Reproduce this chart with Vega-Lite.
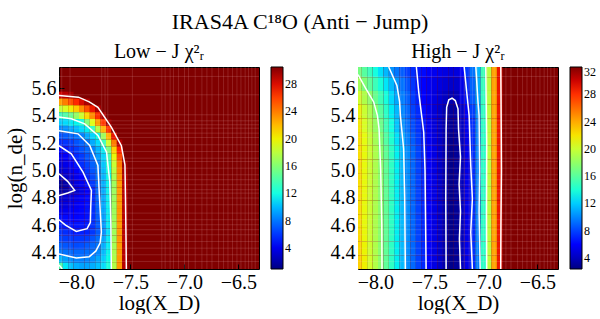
{
"$schema":"https://vega.github.io/schema/vega-lite/v6.json",
"background":"white",
"padding":{"left":3,"top":10,"right":2,"bottom":0},
"title":{"text":"IRAS4A C¹⁸O (Anti − Jump)","fontSize":22,"fontWeight":"normal","anchor":"middle","offset":8,"color":"black"},
"config":{"font":"Liberation Serif","view":{"stroke":"black","strokeWidth":1},
"axis":{"labelFontSize":20,"titleFontSize":21,"titleFontWeight":"normal","labelColor":"black","titleColor":"black","domain":false,"grid":false,"tickColor":"black","tickSize":-5,"labelPadding":8},
"axisX":{"titlePadding":0},
"legend":{"type":"gradient","gradientLength":202,"gradientThickness":12,"labelFontSize":12,"offset":12,"gradientStrokeColor":"black","gradientStrokeWidth":1,"padding":0,"labelOffset":4,"labelColor":"black"},
"title":{"fontWeight":"normal","fontSize":20,"color":"black"},
"concat":{"spacing":31}},
"resolve":{"scale":{"color":"independent"},"legend":{"color":"independent"}},
"datasets":{
"gx":[{"g":-8.135},{"g":-8.058},{"g":-7.765},{"g":-7.734},{"g":-7.709},{"g":-7.481},{"g":-7.209},{"g":-7.178},{"g":-7.132},{"g":-7.101},{"g":-7.055},{"g":-6.999},{"g":-6.962},{"g":-6.9},{"g":-6.838},{"g":-6.792},{"g":-6.745},{"g":-6.684},{"g":-6.638},{"g":-6.597},{"g":-6.555},{"g":-6.514},{"g":-6.477},{"g":-6.438},{"g":-6.407},{"g":-6.376},{"g":-6.345}],
"gy":[{"g":5.686},{"g":5.552},{"g":5.406},{"g":5.362},{"g":5.333},{"g":5.308},{"g":5.272},{"g":5.24},{"g":5.187},{"g":5.138},{"g":5.089},{"g":5.065},{"g":5.016},{"g":4.968},{"g":4.932},{"g":4.895},{"g":4.859},{"g":4.834},{"g":4.798},{"g":4.749},{"g":4.688},{"g":4.64},{"g":4.603},{"g":4.567},{"g":4.53},{"g":4.481},{"g":4.432},{"g":4.384},{"g":4.335}],
"lo":[
{"x":-8.15,"y":5.55,"v":28.5},{"x":-8.1,"y":5.55,"v":29},{"x":-8.05,"y":5.55,"v":29.5},
{"x":-8.15,"y":5.5,"v":22.7},{"x":-8.1,"y":5.5,"v":24},{"x":-8.05,"y":5.5,"v":25.4},{"x":-8,"y":5.5,"v":26.7},{"x":-7.95,"y":5.5,"v":28.1},{"x":-7.9,"y":5.5,"v":29.4},
{"x":-8.15,"y":5.45,"v":18.2},{"x":-8.1,"y":5.45,"v":19},{"x":-8.05,"y":5.45,"v":20},{"x":-8,"y":5.45,"v":21.5},{"x":-7.95,"y":5.45,"v":23.5},{"x":-7.9,"y":5.45,"v":25.5},{"x":-7.85,"y":5.45,"v":27.5},{"x":-7.8,"y":5.45,"v":29.3},
{"x":-8.15,"y":5.4,"v":13.2},{"x":-8.1,"y":5.4,"v":14},{"x":-8.05,"y":5.4,"v":15},{"x":-8,"y":5.4,"v":16.5},{"x":-7.95,"y":5.4,"v":18.5},{"x":-7.9,"y":5.4,"v":21},{"x":-7.85,"y":5.4,"v":23.5},{"x":-7.8,"y":5.4,"v":26.5},{"x":-7.75,"y":5.4,"v":29.4},
{"x":-8.15,"y":5.35,"v":10.5},{"x":-8.1,"y":5.35,"v":10.9},{"x":-8.05,"y":5.35,"v":11.3},{"x":-8,"y":5.35,"v":11.7},{"x":-7.95,"y":5.35,"v":12.1},{"x":-7.9,"y":5.35,"v":15.8},{"x":-7.85,"y":5.35,"v":19.3},{"x":-7.8,"y":5.35,"v":22.8},{"x":-7.75,"y":5.35,"v":26.3},{"x":-7.7,"y":5.35,"v":29.8},
{"x":-8.15,"y":5.3,"v":8.5},{"x":-8.1,"y":5.3,"v":8.8},{"x":-8.05,"y":5.3,"v":9.3},{"x":-8,"y":5.3,"v":10},{"x":-7.95,"y":5.3,"v":10.8},{"x":-7.9,"y":5.3,"v":11.5},{"x":-7.85,"y":5.3,"v":13.3},{"x":-7.8,"y":5.3,"v":17.7},{"x":-7.75,"y":5.3,"v":22.1},{"x":-7.7,"y":5.3,"v":26.4},{"x":-7.65,"y":5.3,"v":30.3},
{"x":-8.15,"y":5.25,"v":6.95},{"x":-8.1,"y":5.25,"v":7.2},{"x":-8.05,"y":5.25,"v":7.5},{"x":-8,"y":5.25,"v":7.8},{"x":-7.95,"y":5.25,"v":8.3},{"x":-7.9,"y":5.25,"v":9.5},{"x":-7.85,"y":5.25,"v":10.7},{"x":-7.8,"y":5.25,"v":11.9},{"x":-7.75,"y":5.25,"v":16.9},{"x":-7.7,"y":5.25,"v":22.2},{"x":-7.65,"y":5.25,"v":27.5},
{"x":-8.15,"y":5.2,"v":5.6},{"x":-8.1,"y":5.2,"v":5.9},{"x":-8.05,"y":5.2,"v":6.3},{"x":-8,"y":5.2,"v":6.9},{"x":-7.95,"y":5.2,"v":7.4},{"x":-7.9,"y":5.2,"v":8},{"x":-7.85,"y":5.2,"v":9.5},{"x":-7.8,"y":5.2,"v":10.9},{"x":-7.75,"y":5.2,"v":13.5},{"x":-7.7,"y":5.2,"v":18.7},{"x":-7.65,"y":5.2,"v":24},{"x":-7.6,"y":5.2,"v":29.2},
{"x":-8.15,"y":5.15,"v":4.7},{"x":-8.1,"y":5.15,"v":5},{"x":-8.05,"y":5.15,"v":5.6},{"x":-8,"y":5.15,"v":6.3},{"x":-7.95,"y":5.15,"v":6.9},{"x":-7.9,"y":5.15,"v":7.5},{"x":-7.85,"y":5.15,"v":8.3},{"x":-7.8,"y":5.15,"v":9.8},{"x":-7.75,"y":5.15,"v":11.4},{"x":-7.7,"y":5.15,"v":15.5},{"x":-7.65,"y":5.15,"v":21.2},{"x":-7.6,"y":5.15,"v":26.8},
{"x":-8.15,"y":5.1,"v":4.1},{"x":-8.1,"y":5.1,"v":4.5},{"x":-8.05,"y":5.1,"v":4.85},{"x":-8,"y":5.1,"v":5.45},{"x":-7.95,"y":5.1,"v":6.2},{"x":-7.9,"y":5.1,"v":7},{"x":-7.85,"y":5.1,"v":7.75},{"x":-7.8,"y":5.1,"v":9.1},{"x":-7.75,"y":5.1,"v":10.8},{"x":-7.7,"y":5.1,"v":13.7},{"x":-7.65,"y":5.1,"v":19.7},{"x":-7.6,"y":5.1,"v":25.7},
{"x":-8.15,"y":5.05,"v":3.5},{"x":-8.1,"y":5.05,"v":3.9},{"x":-8.05,"y":5.05,"v":4.4},{"x":-8,"y":5.05,"v":4.9},{"x":-7.95,"y":5.05,"v":5.6},{"x":-7.9,"y":5.05,"v":6.5},{"x":-7.85,"y":5.05,"v":7.3},{"x":-7.8,"y":5.05,"v":8.3},{"x":-7.75,"y":5.05,"v":10.3},{"x":-7.7,"y":5.05,"v":12.9},{"x":-7.65,"y":5.05,"v":18.5},{"x":-7.6,"y":5.05,"v":24.1},{"x":-7.55,"y":5.05,"v":29.7},
{"x":-8.15,"y":5,"v":2.9},{"x":-8.1,"y":5,"v":3.3},{"x":-8.05,"y":5,"v":3.8},{"x":-8,"y":5,"v":4.4},{"x":-7.95,"y":5,"v":5},{"x":-7.9,"y":5,"v":5.95},{"x":-7.85,"y":5,"v":6.95},{"x":-7.8,"y":5,"v":7.95},{"x":-7.75,"y":5,"v":10},{"x":-7.7,"y":5,"v":12.2},{"x":-7.65,"y":5,"v":17.9},{"x":-7.6,"y":5,"v":23.6},{"x":-7.55,"y":5,"v":29.4},
{"x":-8.15,"y":4.95,"v":2.3},{"x":-8.1,"y":4.95,"v":2.85},{"x":-8.05,"y":4.95,"v":3.4},{"x":-8,"y":4.95,"v":4},{"x":-7.95,"y":4.95,"v":4.6},{"x":-7.9,"y":4.95,"v":5.4},{"x":-7.85,"y":4.95,"v":6.6},{"x":-7.8,"y":4.95,"v":7.9},{"x":-7.75,"y":4.95,"v":9.8},{"x":-7.7,"y":4.95,"v":11.8},{"x":-7.65,"y":4.95,"v":17.4},{"x":-7.6,"y":4.95,"v":23.2},{"x":-7.55,"y":4.95,"v":29.1},
{"x":-8.15,"y":4.9,"v":1.4},{"x":-8.1,"y":4.9,"v":2},{"x":-8.05,"y":4.9,"v":2.8},{"x":-8,"y":4.9,"v":3.5},{"x":-7.95,"y":4.9,"v":4.1},{"x":-7.9,"y":4.9,"v":4.8},{"x":-7.85,"y":4.9,"v":6.1},{"x":-7.8,"y":4.9,"v":7.7},{"x":-7.75,"y":4.9,"v":9.6},{"x":-7.7,"y":4.9,"v":11.6},{"x":-7.65,"y":4.9,"v":16.9},{"x":-7.6,"y":4.9,"v":23},{"x":-7.55,"y":4.9,"v":29},
{"x":-8.15,"y":4.85,"v":1.8},{"x":-8.1,"y":4.85,"v":2},{"x":-8.05,"y":4.85,"v":2.4},{"x":-8,"y":4.85,"v":2.95},{"x":-7.95,"y":4.85,"v":3.7},{"x":-7.9,"y":4.85,"v":4.4},{"x":-7.85,"y":4.85,"v":5.4},{"x":-7.8,"y":4.85,"v":7.5},{"x":-7.75,"y":4.85,"v":9.5},{"x":-7.7,"y":4.85,"v":11.6},{"x":-7.65,"y":4.85,"v":16.8},{"x":-7.6,"y":4.85,"v":22.9},{"x":-7.55,"y":4.85,"v":29},
{"x":-8.15,"y":4.8,"v":2.8},{"x":-8.1,"y":4.8,"v":3.2},{"x":-8.05,"y":4.8,"v":3.55},{"x":-8,"y":4.8,"v":3.9},{"x":-7.95,"y":4.8,"v":4.3},{"x":-7.9,"y":4.8,"v":4.7},{"x":-7.85,"y":4.8,"v":5.5},{"x":-7.8,"y":4.8,"v":7.45},{"x":-7.75,"y":4.8,"v":9.5},{"x":-7.7,"y":4.8,"v":11.5},{"x":-7.65,"y":4.8,"v":16.9},{"x":-7.6,"y":4.8,"v":22.9},{"x":-7.55,"y":4.8,"v":29},
{"x":-8.15,"y":4.75,"v":3.25},{"x":-8.1,"y":4.75,"v":3.55},{"x":-8.05,"y":4.75,"v":3.85},{"x":-8,"y":4.75,"v":4.2},{"x":-7.95,"y":4.75,"v":4.5},{"x":-7.9,"y":4.75,"v":4.8},{"x":-7.85,"y":4.75,"v":5.6},{"x":-7.8,"y":4.75,"v":7.4},{"x":-7.75,"y":4.75,"v":9.4},{"x":-7.7,"y":4.75,"v":11.5},{"x":-7.65,"y":4.75,"v":16.9},{"x":-7.6,"y":4.75,"v":23},{"x":-7.55,"y":4.75,"v":29},
{"x":-8.15,"y":4.7,"v":3.85},{"x":-8.1,"y":4.7,"v":4.05},{"x":-8.05,"y":4.7,"v":4.25},{"x":-8,"y":4.7,"v":4.45},{"x":-7.95,"y":4.7,"v":4.65},{"x":-7.9,"y":4.7,"v":4.85},{"x":-7.85,"y":4.7,"v":5.6},{"x":-7.8,"y":4.7,"v":7.3},{"x":-7.75,"y":4.7,"v":9.3},{"x":-7.7,"y":4.7,"v":11.4},{"x":-7.65,"y":4.7,"v":16.9},{"x":-7.6,"y":4.7,"v":23},{"x":-7.55,"y":4.7,"v":29},
{"x":-8.15,"y":4.65,"v":4.8},{"x":-8.1,"y":4.65,"v":4.7},{"x":-8.05,"y":4.65,"v":4.65},{"x":-8,"y":4.65,"v":4.65},{"x":-7.95,"y":4.65,"v":4.7},{"x":-7.9,"y":4.65,"v":4.85},{"x":-7.85,"y":4.65,"v":5.7},{"x":-7.8,"y":4.65,"v":7.2},{"x":-7.75,"y":4.65,"v":9.1},{"x":-7.7,"y":4.65,"v":11.4},{"x":-7.65,"y":4.65,"v":17},{"x":-7.6,"y":4.65,"v":23},{"x":-7.55,"y":4.65,"v":29},
{"x":-8.15,"y":4.6,"v":5.2},{"x":-8.1,"y":4.6,"v":5},{"x":-8.05,"y":4.6,"v":4.9},{"x":-8,"y":4.6,"v":4.85},{"x":-7.95,"y":4.6,"v":4.9},{"x":-7.9,"y":4.6,"v":5},{"x":-7.85,"y":4.6,"v":5.8},{"x":-7.8,"y":4.6,"v":7.1},{"x":-7.75,"y":4.6,"v":9},{"x":-7.7,"y":4.6,"v":11.3},{"x":-7.65,"y":4.6,"v":17},{"x":-7.6,"y":4.6,"v":23},{"x":-7.55,"y":4.6,"v":29},
{"x":-8.15,"y":4.55,"v":5.9},{"x":-8.1,"y":4.55,"v":5.6},{"x":-8.05,"y":4.55,"v":5.3},{"x":-8,"y":4.55,"v":5.1},{"x":-7.95,"y":4.55,"v":5.15},{"x":-7.9,"y":4.55,"v":5.2},{"x":-7.85,"y":4.55,"v":6},{"x":-7.8,"y":4.55,"v":7.1},{"x":-7.75,"y":4.55,"v":8.7},{"x":-7.7,"y":4.55,"v":11},{"x":-7.65,"y":4.55,"v":17},{"x":-7.6,"y":4.55,"v":23},{"x":-7.55,"y":4.55,"v":29},
{"x":-8.15,"y":4.5,"v":6.6},{"x":-8.1,"y":4.5,"v":6.3},{"x":-8.05,"y":4.5,"v":6.1},{"x":-8,"y":4.5,"v":6},{"x":-7.95,"y":4.5,"v":6},{"x":-7.9,"y":4.5,"v":6.3},{"x":-7.85,"y":4.5,"v":6.9},{"x":-7.8,"y":4.5,"v":7.7},{"x":-7.75,"y":4.5,"v":9.3},{"x":-7.7,"y":4.5,"v":11.3},{"x":-7.65,"y":4.5,"v":17},{"x":-7.6,"y":4.5,"v":23},{"x":-7.55,"y":4.5,"v":29},
{"x":-8.15,"y":4.45,"v":7.3},{"x":-8.1,"y":4.45,"v":7},{"x":-8.05,"y":4.45,"v":6.8},{"x":-8,"y":4.45,"v":6.7},{"x":-7.95,"y":4.45,"v":6.8},{"x":-7.9,"y":4.45,"v":7.1},{"x":-7.85,"y":4.45,"v":7.5},{"x":-7.8,"y":4.45,"v":8},{"x":-7.75,"y":4.45,"v":9.6},{"x":-7.7,"y":4.45,"v":11.4},{"x":-7.65,"y":4.45,"v":17.2},{"x":-7.6,"y":4.45,"v":23},{"x":-7.55,"y":4.45,"v":29},
{"x":-8.15,"y":4.4,"v":8.1},{"x":-8.1,"y":4.4,"v":7.8},{"x":-8.05,"y":4.4,"v":7.6},{"x":-8,"y":4.4,"v":7.5},{"x":-7.95,"y":4.4,"v":7.5},{"x":-7.9,"y":4.4,"v":7.7},{"x":-7.85,"y":4.4,"v":7.9},{"x":-7.8,"y":4.4,"v":8.5},{"x":-7.75,"y":4.4,"v":10},{"x":-7.7,"y":4.4,"v":11.6},{"x":-7.65,"y":4.4,"v":17.3},{"x":-7.6,"y":4.4,"v":23},{"x":-7.55,"y":4.4,"v":29},
{"x":-8.15,"y":4.35,"v":10},{"x":-8.1,"y":4.35,"v":9.2},{"x":-8.05,"y":4.35,"v":8.7},{"x":-8,"y":4.35,"v":8.4},{"x":-7.95,"y":4.35,"v":8.3},{"x":-7.9,"y":4.35,"v":8.4},{"x":-7.85,"y":4.35,"v":8.7},{"x":-7.8,"y":4.35,"v":9.4},{"x":-7.75,"y":4.35,"v":10.5},{"x":-7.7,"y":4.35,"v":11.9},{"x":-7.65,"y":4.35,"v":17.5},{"x":-7.6,"y":4.35,"v":23},{"x":-7.55,"y":4.35,"v":29},
{"x":-8.15,"y":4.3,"v":14},{"x":-8.1,"y":4.3,"v":11.3},{"x":-8.05,"y":4.3,"v":10.2},{"x":-8,"y":4.3,"v":9.6},{"x":-7.95,"y":4.3,"v":9.3},{"x":-7.9,"y":4.3,"v":9.3},{"x":-7.85,"y":4.3,"v":9.6},{"x":-7.8,"y":4.3,"v":10.2},{"x":-7.75,"y":4.3,"v":11},{"x":-7.7,"y":4.3,"v":12.3},{"x":-7.65,"y":4.3,"v":17.6},{"x":-7.6,"y":4.3,"v":23},{"x":-7.55,"y":4.3,"v":29}
],
"hi":[
{"x":-8.15,"y":5.73,"v":17},{"x":-8.1,"y":5.73,"v":15.9},{"x":-8.05,"y":5.73,"v":14.8},{"x":-8,"y":5.73,"v":13.6},{"x":-7.95,"y":5.73,"v":12.5},{"x":-7.9,"y":5.73,"v":11.4},{"x":-7.85,"y":5.73,"v":10.3},{"x":-7.8,"y":5.73,"v":9.5},{"x":-7.75,"y":5.73,"v":8.7},{"x":-7.7,"y":5.73,"v":7.9},{"x":-7.65,"y":5.73,"v":7},{"x":-7.6,"y":5.73,"v":6.4},{"x":-7.55,"y":5.73,"v":6.2},{"x":-7.5,"y":5.73,"v":5.9},{"x":-7.45,"y":5.73,"v":5.65},{"x":-7.4,"y":5.73,"v":5.4},{"x":-7.35,"y":5.73,"v":5.15},{"x":-7.3,"y":5.73,"v":4.9},{"x":-7.25,"y":5.73,"v":4.95},{"x":-7.2,"y":5.73,"v":5.9},{"x":-7.15,"y":5.73,"v":7.6},{"x":-7.1,"y":5.73,"v":9.4},{"x":-7.05,"y":5.73,"v":11.4},{"x":-7,"y":5.73,"v":15},{"x":-6.95,"y":5.73,"v":19.4},{"x":-6.9,"y":5.73,"v":24.2},{"x":-6.85,"y":5.73,"v":29},
{"x":-8.15,"y":5.63,"v":18.6},{"x":-8.1,"y":5.63,"v":17.3},{"x":-8.05,"y":5.63,"v":16.1},{"x":-8,"y":5.63,"v":15},{"x":-7.95,"y":5.63,"v":13.8},{"x":-7.9,"y":5.63,"v":12.7},{"x":-7.85,"y":5.63,"v":11.5},{"x":-7.8,"y":5.63,"v":10.4},{"x":-7.75,"y":5.63,"v":9.4},{"x":-7.7,"y":5.63,"v":8.4},{"x":-7.65,"y":5.63,"v":7.4},{"x":-7.6,"y":5.63,"v":6.4},{"x":-7.55,"y":5.63,"v":6.1},{"x":-7.5,"y":5.63,"v":5.7},{"x":-7.45,"y":5.63,"v":5.4},{"x":-7.4,"y":5.63,"v":5.05},{"x":-7.35,"y":5.63,"v":4.7},{"x":-7.3,"y":5.63,"v":4.35},{"x":-7.25,"y":5.63,"v":4.4},{"x":-7.2,"y":5.63,"v":5.4},{"x":-7.15,"y":5.63,"v":7.2},{"x":-7.1,"y":5.63,"v":8.9},{"x":-7.05,"y":5.63,"v":11.2},{"x":-7,"y":5.63,"v":14.8},{"x":-6.95,"y":5.63,"v":19.4},{"x":-6.9,"y":5.63,"v":24.2},{"x":-6.85,"y":5.63,"v":29},
{"x":-8.15,"y":5.53,"v":20.2},{"x":-8.1,"y":5.53,"v":19},{"x":-8.05,"y":5.53,"v":17.8},{"x":-8,"y":5.53,"v":16.5},{"x":-7.95,"y":5.53,"v":15.1},{"x":-7.9,"y":5.53,"v":13.7},{"x":-7.85,"y":5.53,"v":12.3},{"x":-7.8,"y":5.53,"v":10.9},{"x":-7.75,"y":5.53,"v":9.8},{"x":-7.7,"y":5.53,"v":8.8},{"x":-7.65,"y":5.53,"v":7.7},{"x":-7.6,"y":5.53,"v":6.7},{"x":-7.55,"y":5.53,"v":6.1},{"x":-7.5,"y":5.53,"v":5.6},{"x":-7.45,"y":5.53,"v":5.1},{"x":-7.4,"y":5.53,"v":4.6},{"x":-7.35,"y":5.53,"v":4.1},{"x":-7.3,"y":5.53,"v":3.7},{"x":-7.25,"y":5.53,"v":3.8},{"x":-7.2,"y":5.53,"v":5.2},{"x":-7.15,"y":5.53,"v":6.5},{"x":-7.1,"y":5.53,"v":8.6},{"x":-7.05,"y":5.53,"v":10.8},{"x":-7,"y":5.53,"v":14.7},{"x":-6.95,"y":5.53,"v":19.4},{"x":-6.9,"y":5.53,"v":24.2},{"x":-6.85,"y":5.53,"v":29},
{"x":-8.15,"y":5.43,"v":21.3},{"x":-8.1,"y":5.43,"v":20},{"x":-8.05,"y":5.43,"v":18.8},{"x":-8,"y":5.43,"v":17.5},{"x":-7.95,"y":5.43,"v":16},{"x":-7.9,"y":5.43,"v":14.5},{"x":-7.85,"y":5.43,"v":12.9},{"x":-7.8,"y":5.43,"v":11.4},{"x":-7.75,"y":5.43,"v":10},{"x":-7.7,"y":5.43,"v":9},{"x":-7.65,"y":5.43,"v":8},{"x":-7.6,"y":5.43,"v":7},{"x":-7.55,"y":5.43,"v":6.2},{"x":-7.5,"y":5.43,"v":5.5},{"x":-7.45,"y":5.43,"v":4.9},{"x":-7.4,"y":5.43,"v":4.3},{"x":-7.35,"y":5.43,"v":3.6},{"x":-7.3,"y":5.43,"v":3.2},{"x":-7.25,"y":5.43,"v":3.35},{"x":-7.2,"y":5.43,"v":4.3},{"x":-7.15,"y":5.43,"v":5.8},{"x":-7.1,"y":5.43,"v":7.9},{"x":-7.05,"y":5.43,"v":10.3},{"x":-7,"y":5.43,"v":14.6},{"x":-6.95,"y":5.43,"v":19.4},{"x":-6.9,"y":5.43,"v":24.2},{"x":-6.85,"y":5.43,"v":29},
{"x":-8.15,"y":5.33,"v":21.8},{"x":-8.1,"y":5.33,"v":20.5},{"x":-8.05,"y":5.33,"v":19.3},{"x":-8,"y":5.33,"v":18.1},{"x":-7.95,"y":5.33,"v":16.7},{"x":-7.9,"y":5.33,"v":15.1},{"x":-7.85,"y":5.33,"v":13.5},{"x":-7.8,"y":5.33,"v":11.8},{"x":-7.75,"y":5.33,"v":10.3},{"x":-7.7,"y":5.33,"v":9.3},{"x":-7.65,"y":5.33,"v":8.3},{"x":-7.6,"y":5.33,"v":7.3},{"x":-7.55,"y":5.33,"v":6.4},{"x":-7.5,"y":5.33,"v":5.6},{"x":-7.45,"y":5.33,"v":4.9},{"x":-7.4,"y":5.33,"v":4.2},{"x":-7.35,"y":5.33,"v":3.5},{"x":-7.3,"y":5.33,"v":3},{"x":-7.25,"y":5.33,"v":3.2},{"x":-7.2,"y":5.33,"v":4.1},{"x":-7.15,"y":5.33,"v":5.5},{"x":-7.1,"y":5.33,"v":7.2},{"x":-7.05,"y":5.33,"v":9.9},{"x":-7,"y":5.33,"v":14.5},{"x":-6.95,"y":5.33,"v":19.4},{"x":-6.9,"y":5.33,"v":24.2},{"x":-6.85,"y":5.33,"v":29},
{"x":-8.15,"y":5.23,"v":22.2},{"x":-8.1,"y":5.23,"v":21},{"x":-8.05,"y":5.23,"v":19.8},{"x":-8,"y":5.23,"v":18.6},{"x":-7.95,"y":5.23,"v":17.35},{"x":-7.9,"y":5.23,"v":15.75},{"x":-7.85,"y":5.23,"v":14.2},{"x":-7.8,"y":5.23,"v":12.6},{"x":-7.75,"y":5.23,"v":11},{"x":-7.7,"y":5.23,"v":9.8},{"x":-7.65,"y":5.23,"v":8.7},{"x":-7.6,"y":5.23,"v":7.7},{"x":-7.55,"y":5.23,"v":6.6},{"x":-7.5,"y":5.23,"v":5.8},{"x":-7.45,"y":5.23,"v":5},{"x":-7.4,"y":5.23,"v":4.3},{"x":-7.35,"y":5.23,"v":3.5},{"x":-7.3,"y":5.23,"v":2.8},{"x":-7.25,"y":5.23,"v":3},{"x":-7.2,"y":5.23,"v":4},{"x":-7.15,"y":5.23,"v":5.4},{"x":-7.1,"y":5.23,"v":7.1},{"x":-7.05,"y":5.23,"v":9.9},{"x":-7,"y":5.23,"v":14.5},{"x":-6.95,"y":5.23,"v":19.4},{"x":-6.9,"y":5.23,"v":24.2},{"x":-6.85,"y":5.23,"v":29},
{"x":-8.15,"y":5.13,"v":22.3},{"x":-8.1,"y":5.13,"v":21.1},{"x":-8.05,"y":5.13,"v":20},{"x":-8,"y":5.13,"v":18.9},{"x":-7.95,"y":5.13,"v":17.7},{"x":-7.9,"y":5.13,"v":16.2},{"x":-7.85,"y":5.13,"v":14.6},{"x":-7.8,"y":5.13,"v":13},{"x":-7.75,"y":5.13,"v":11.5},{"x":-7.7,"y":5.13,"v":10.1},{"x":-7.65,"y":5.13,"v":9},{"x":-7.6,"y":5.13,"v":8},{"x":-7.55,"y":5.13,"v":6.9},{"x":-7.5,"y":5.13,"v":6},{"x":-7.45,"y":5.13,"v":5.2},{"x":-7.4,"y":5.13,"v":4.3},{"x":-7.35,"y":5.13,"v":3.5},{"x":-7.3,"y":5.13,"v":2.7},{"x":-7.25,"y":5.13,"v":3},{"x":-7.2,"y":5.13,"v":4},{"x":-7.15,"y":5.13,"v":5.4},{"x":-7.1,"y":5.13,"v":7.1},{"x":-7.05,"y":5.13,"v":9.9},{"x":-7,"y":5.13,"v":14.5},{"x":-6.95,"y":5.13,"v":19.4},{"x":-6.9,"y":5.13,"v":24.2},{"x":-6.85,"y":5.13,"v":29},
{"x":-8.15,"y":5.03,"v":22.3},{"x":-8.1,"y":5.03,"v":21.1},{"x":-8.05,"y":5.03,"v":20},{"x":-8,"y":5.03,"v":18.9},{"x":-7.95,"y":5.03,"v":17.7},{"x":-7.9,"y":5.03,"v":16.2},{"x":-7.85,"y":5.03,"v":14.6},{"x":-7.8,"y":5.03,"v":13},{"x":-7.75,"y":5.03,"v":11.5},{"x":-7.7,"y":5.03,"v":10.1},{"x":-7.65,"y":5.03,"v":9},{"x":-7.6,"y":5.03,"v":8},{"x":-7.55,"y":5.03,"v":6.9},{"x":-7.5,"y":5.03,"v":6},{"x":-7.45,"y":5.03,"v":5.2},{"x":-7.4,"y":5.03,"v":4.3},{"x":-7.35,"y":5.03,"v":3.5},{"x":-7.3,"y":5.03,"v":2.7},{"x":-7.25,"y":5.03,"v":3},{"x":-7.2,"y":5.03,"v":3.9},{"x":-7.15,"y":5.03,"v":5.3},{"x":-7.1,"y":5.03,"v":7.1},{"x":-7.05,"y":5.03,"v":9.9},{"x":-7,"y":5.03,"v":14.5},{"x":-6.95,"y":5.03,"v":19.4},{"x":-6.9,"y":5.03,"v":24.2},{"x":-6.85,"y":5.03,"v":29},
{"x":-8.15,"y":4.93,"v":22.3},{"x":-8.1,"y":4.93,"v":21.1},{"x":-8.05,"y":4.93,"v":20},{"x":-8,"y":4.93,"v":18.9},{"x":-7.95,"y":4.93,"v":17.7},{"x":-7.9,"y":4.93,"v":16.2},{"x":-7.85,"y":4.93,"v":14.6},{"x":-7.8,"y":4.93,"v":13},{"x":-7.75,"y":4.93,"v":11.5},{"x":-7.7,"y":4.93,"v":10.1},{"x":-7.65,"y":4.93,"v":9},{"x":-7.6,"y":4.93,"v":8},{"x":-7.55,"y":4.93,"v":6.9},{"x":-7.5,"y":4.93,"v":6},{"x":-7.45,"y":4.93,"v":5.2},{"x":-7.4,"y":4.93,"v":4.3},{"x":-7.35,"y":4.93,"v":3.5},{"x":-7.3,"y":4.93,"v":2.7},{"x":-7.25,"y":4.93,"v":3},{"x":-7.2,"y":4.93,"v":4},{"x":-7.15,"y":4.93,"v":5.4},{"x":-7.1,"y":4.93,"v":7.2},{"x":-7.05,"y":4.93,"v":9.9},{"x":-7,"y":4.93,"v":14.5},{"x":-6.95,"y":4.93,"v":19.4},{"x":-6.9,"y":4.93,"v":24.2},{"x":-6.85,"y":4.93,"v":29},
{"x":-8.15,"y":4.83,"v":22.3},{"x":-8.1,"y":4.83,"v":21.1},{"x":-8.05,"y":4.83,"v":20},{"x":-8,"y":4.83,"v":18.9},{"x":-7.95,"y":4.83,"v":17.7},{"x":-7.9,"y":4.83,"v":16.2},{"x":-7.85,"y":4.83,"v":14.6},{"x":-7.8,"y":4.83,"v":13},{"x":-7.75,"y":4.83,"v":11.5},{"x":-7.7,"y":4.83,"v":10.1},{"x":-7.65,"y":4.83,"v":9},{"x":-7.6,"y":4.83,"v":8},{"x":-7.55,"y":4.83,"v":6.9},{"x":-7.5,"y":4.83,"v":6},{"x":-7.45,"y":4.83,"v":5.2},{"x":-7.4,"y":4.83,"v":4.3},{"x":-7.35,"y":4.83,"v":3.5},{"x":-7.3,"y":4.83,"v":2.7},{"x":-7.25,"y":4.83,"v":3},{"x":-7.2,"y":4.83,"v":4},{"x":-7.15,"y":4.83,"v":5.3},{"x":-7.1,"y":4.83,"v":6.9},{"x":-7.05,"y":4.83,"v":9.8},{"x":-7,"y":4.83,"v":14.5},{"x":-6.95,"y":4.83,"v":19.4},{"x":-6.9,"y":4.83,"v":24.2},{"x":-6.85,"y":4.83,"v":29},
{"x":-8.15,"y":4.73,"v":22.3},{"x":-8.1,"y":4.73,"v":21.1},{"x":-8.05,"y":4.73,"v":20},{"x":-8,"y":4.73,"v":18.9},{"x":-7.95,"y":4.73,"v":17.7},{"x":-7.9,"y":4.73,"v":16.2},{"x":-7.85,"y":4.73,"v":14.6},{"x":-7.8,"y":4.73,"v":13},{"x":-7.75,"y":4.73,"v":11.5},{"x":-7.7,"y":4.73,"v":10.1},{"x":-7.65,"y":4.73,"v":9},{"x":-7.6,"y":4.73,"v":8},{"x":-7.55,"y":4.73,"v":6.9},{"x":-7.5,"y":4.73,"v":6},{"x":-7.45,"y":4.73,"v":5.2},{"x":-7.4,"y":4.73,"v":4.3},{"x":-7.35,"y":4.73,"v":3.5},{"x":-7.3,"y":4.73,"v":2.7},{"x":-7.25,"y":4.73,"v":3},{"x":-7.2,"y":4.73,"v":4},{"x":-7.15,"y":4.73,"v":5.4},{"x":-7.1,"y":4.73,"v":7.1},{"x":-7.05,"y":4.73,"v":9.9},{"x":-7,"y":4.73,"v":14.5},{"x":-6.95,"y":4.73,"v":19.4},{"x":-6.9,"y":4.73,"v":24.2},{"x":-6.85,"y":4.73,"v":29},
{"x":-8.15,"y":4.63,"v":22.4},{"x":-8.1,"y":4.63,"v":21.1},{"x":-8.05,"y":4.63,"v":20},{"x":-8,"y":4.63,"v":18.9},{"x":-7.95,"y":4.63,"v":17.7},{"x":-7.9,"y":4.63,"v":16.2},{"x":-7.85,"y":4.63,"v":14.6},{"x":-7.8,"y":4.63,"v":13},{"x":-7.75,"y":4.63,"v":11.5},{"x":-7.7,"y":4.63,"v":10.1},{"x":-7.65,"y":4.63,"v":9},{"x":-7.6,"y":4.63,"v":8},{"x":-7.55,"y":4.63,"v":6.9},{"x":-7.5,"y":4.63,"v":6},{"x":-7.45,"y":4.63,"v":5.2},{"x":-7.4,"y":4.63,"v":4.3},{"x":-7.35,"y":4.63,"v":3.5},{"x":-7.3,"y":4.63,"v":2.7},{"x":-7.25,"y":4.63,"v":3},{"x":-7.2,"y":4.63,"v":4},{"x":-7.15,"y":4.63,"v":5.4},{"x":-7.1,"y":4.63,"v":7.2},{"x":-7.05,"y":4.63,"v":9.9},{"x":-7,"y":4.63,"v":14.5},{"x":-6.95,"y":4.63,"v":19.4},{"x":-6.9,"y":4.63,"v":24.2},{"x":-6.85,"y":4.63,"v":29},
{"x":-8.15,"y":4.53,"v":22.5},{"x":-8.1,"y":4.53,"v":21.2},{"x":-8.05,"y":4.53,"v":20},{"x":-8,"y":4.53,"v":18.9},{"x":-7.95,"y":4.53,"v":17.7},{"x":-7.9,"y":4.53,"v":16.2},{"x":-7.85,"y":4.53,"v":14.6},{"x":-7.8,"y":4.53,"v":13},{"x":-7.75,"y":4.53,"v":11.5},{"x":-7.7,"y":4.53,"v":10.1},{"x":-7.65,"y":4.53,"v":9},{"x":-7.6,"y":4.53,"v":8},{"x":-7.55,"y":4.53,"v":6.9},{"x":-7.5,"y":4.53,"v":6},{"x":-7.45,"y":4.53,"v":5.2},{"x":-7.4,"y":4.53,"v":4.3},{"x":-7.35,"y":4.53,"v":3.5},{"x":-7.3,"y":4.53,"v":2.7},{"x":-7.25,"y":4.53,"v":3},{"x":-7.2,"y":4.53,"v":4},{"x":-7.15,"y":4.53,"v":5.3},{"x":-7.1,"y":4.53,"v":6.9},{"x":-7.05,"y":4.53,"v":9.8},{"x":-7,"y":4.53,"v":14.5},{"x":-6.95,"y":4.53,"v":19.4},{"x":-6.9,"y":4.53,"v":24.2},{"x":-6.85,"y":4.53,"v":29},
{"x":-8.15,"y":4.43,"v":22.6},{"x":-8.1,"y":4.43,"v":21.3},{"x":-8.05,"y":4.43,"v":20.1},{"x":-8,"y":4.43,"v":19},{"x":-7.95,"y":4.43,"v":17.7},{"x":-7.9,"y":4.43,"v":16.2},{"x":-7.85,"y":4.43,"v":14.6},{"x":-7.8,"y":4.43,"v":13},{"x":-7.75,"y":4.43,"v":11.5},{"x":-7.7,"y":4.43,"v":10.1},{"x":-7.65,"y":4.43,"v":9},{"x":-7.6,"y":4.43,"v":8},{"x":-7.55,"y":4.43,"v":6.9},{"x":-7.5,"y":4.43,"v":6},{"x":-7.45,"y":4.43,"v":5.2},{"x":-7.4,"y":4.43,"v":4.3},{"x":-7.35,"y":4.43,"v":3.5},{"x":-7.3,"y":4.43,"v":2.7},{"x":-7.25,"y":4.43,"v":3},{"x":-7.2,"y":4.43,"v":4},{"x":-7.15,"y":4.43,"v":5.4},{"x":-7.1,"y":4.43,"v":7.2},{"x":-7.05,"y":4.43,"v":9.9},{"x":-7,"y":4.43,"v":14.5},{"x":-6.95,"y":4.43,"v":19.4},{"x":-6.9,"y":4.43,"v":24.2},{"x":-6.85,"y":4.43,"v":29},
{"x":-8.15,"y":4.33,"v":22.8},{"x":-8.1,"y":4.33,"v":21.5},{"x":-8.05,"y":4.33,"v":20.3},{"x":-8,"y":4.33,"v":19.1},{"x":-7.95,"y":4.33,"v":17.8},{"x":-7.9,"y":4.33,"v":16.2},{"x":-7.85,"y":4.33,"v":14.6},{"x":-7.8,"y":4.33,"v":13},{"x":-7.75,"y":4.33,"v":11.5},{"x":-7.7,"y":4.33,"v":10.1},{"x":-7.65,"y":4.33,"v":9},{"x":-7.6,"y":4.33,"v":8},{"x":-7.55,"y":4.33,"v":6.9},{"x":-7.5,"y":4.33,"v":6},{"x":-7.45,"y":4.33,"v":5.2},{"x":-7.4,"y":4.33,"v":4.3},{"x":-7.35,"y":4.33,"v":3.5},{"x":-7.3,"y":4.33,"v":2.7},{"x":-7.25,"y":4.33,"v":3},{"x":-7.2,"y":4.33,"v":4},{"x":-7.15,"y":4.33,"v":5.3},{"x":-7.1,"y":4.33,"v":7},{"x":-7.05,"y":4.33,"v":9.8},{"x":-7,"y":4.33,"v":14.5},{"x":-6.95,"y":4.33,"v":19.4},{"x":-6.9,"y":4.33,"v":24.2},{"x":-6.85,"y":4.33,"v":29}
],
"loc":[
{"c":1,"o":1,"x":-8.16,"y":5.547},{"c":1,"o":2,"x":-7.98,"y":5.535},{"c":1,"o":3,"x":-7.88,"y":5.5},{"c":1,"o":4,"x":-7.8,"y":5.46},{"c":1,"o":5,"x":-7.676,"y":5.316},{"c":1,"o":6,"x":-7.583,"y":5.18},{"c":1,"o":7,"x":-7.55,"y":5.04},{"c":1,"o":8,"x":-7.545,"y":4.8},{"c":1,"o":9,"x":-7.54,"y":4.5},{"c":1,"o":10,"x":-7.537,"y":4.28},
{"c":2,"o":1,"x":-8.16,"y":5.39},{"c":2,"o":2,"x":-8.046,"y":5.377},{"c":2,"o":3,"x":-7.922,"y":5.34},{"c":2,"o":4,"x":-7.8,"y":5.255},{"c":2,"o":5,"x":-7.72,"y":5.133},{"c":2,"o":6,"x":-7.69,"y":4.914},{"c":2,"o":7,"x":-7.68,"y":4.6},{"c":2,"o":8,"x":-7.676,"y":4.28},
{"c":6,"o":1,"x":-8.16,"y":4.31},{"c":6,"o":2,"x":-8.13,"y":4.28},
{"c":3,"o":1,"x":-8.16,"y":5.29},{"c":3,"o":2,"x":-7.984,"y":5.267},{"c":3,"o":3,"x":-7.876,"y":5.182},{"c":3,"o":4,"x":-7.8,"y":5.036},{"c":3,"o":5,"x":-7.785,"y":4.793},{"c":3,"o":6,"x":-7.768,"y":4.549},{"c":3,"o":7,"x":-7.78,"y":4.47},{"c":3,"o":8,"x":-7.82,"y":4.41},{"c":3,"o":9,"x":-7.88,"y":4.37},{"c":3,"o":10,"x":-8,"y":4.36},{"c":3,"o":11,"x":-8.16,"y":4.39},
{"c":4,"o":1,"x":-8.16,"y":5.18},{"c":4,"o":2,"x":-8.046,"y":5.121},{"c":4,"o":3,"x":-7.938,"y":4.987},{"c":4,"o":4,"x":-7.86,"y":4.854},{"c":4,"o":5,"x":-7.866,"y":4.744},{"c":4,"o":6,"x":-7.87,"y":4.62},{"c":4,"o":7,"x":-7.9,"y":4.575},{"c":4,"o":8,"x":-8,"y":4.554},{"c":4,"o":9,"x":-8.1,"y":4.6},{"c":4,"o":10,"x":-8.16,"y":4.64},
{"c":5,"o":1,"x":-8.16,"y":4.975},{"c":5,"o":2,"x":-8.08,"y":4.92},{"c":5,"o":3,"x":-8.015,"y":4.854},{"c":5,"o":4,"x":-8.08,"y":4.835},{"c":5,"o":5,"x":-8.16,"y":4.817}
],
"hic":[
{"c":"A","o":1,"x":-8.16,"y":5.7},{"c":"A","o":2,"x":-8.09,"y":5.6},{"c":"A","o":3,"x":-8.015,"y":5.5},{"c":"A","o":4,"x":-7.98,"y":5.4},{"c":"A","o":5,"x":-7.965,"y":5.3},{"c":"A","o":6,"x":-7.95,"y":5},{"c":"A","o":7,"x":-7.94,"y":4.6},{"c":"A","o":8,"x":-7.938,"y":4.28},
{"c":"B","o":1,"x":-7.876,"y":5.755},{"c":"B","o":2,"x":-7.8,"y":5.62},{"c":"B","o":3,"x":-7.775,"y":5.5},{"c":"B","o":4,"x":-7.768,"y":5.4},{"c":"B","o":5,"x":-7.738,"y":5.158},{"c":"B","o":6,"x":-7.728,"y":4.8},{"c":"B","o":7,"x":-7.722,"y":4.28},
{"c":"C","o":1,"x":-7.62,"y":5.755},{"c":"C","o":2,"x":-7.598,"y":5.57},{"c":"C","o":3,"x":-7.552,"y":5.279},{"c":"C","o":4,"x":-7.54,"y":5},{"c":"C","o":5,"x":-7.53,"y":4.28},
{"c":"D","o":1,"x":-7.345,"y":4.28},{"c":"D","o":2,"x":-7.348,"y":4.8},{"c":"D","o":3,"x":-7.345,"y":5.3},{"c":"D","o":4,"x":-7.34,"y":5.46},{"c":"D","o":5,"x":-7.32,"y":5.515},{"c":"D","o":6,"x":-7.29,"y":5.527},{"c":"D","o":7,"x":-7.26,"y":5.51},{"c":"D","o":8,"x":-7.235,"y":5.45},{"c":"D","o":9,"x":-7.23,"y":5.3},{"c":"D","o":10,"x":-7.212,"y":5.1},{"c":"D","o":11,"x":-7.225,"y":4.9},{"c":"D","o":12,"x":-7.212,"y":4.7},{"c":"D","o":13,"x":-7.222,"y":4.5},{"c":"D","o":14,"x":-7.212,"y":4.28},
{"c":"E","o":1,"x":-7.178,"y":5.755},{"c":"E","o":2,"x":-7.148,"y":5.523},{"c":"E","o":3,"x":-7.132,"y":5.4},{"c":"E","o":4,"x":-7.117,"y":5.036},{"c":"E","o":5,"x":-7.102,"y":4.793},{"c":"E","o":6,"x":-7.117,"y":4.549},{"c":"E","o":7,"x":-7.102,"y":4.28},
{"c":"F","o":1,"x":-7.07,"y":5.755},{"c":"F","o":2,"x":-7.05,"y":5.5},{"c":"F","o":3,"x":-7.04,"y":5.4},{"c":"F","o":4,"x":-7.035,"y":5},{"c":"F","o":5,"x":-7.04,"y":4.7},{"c":"F","o":6,"x":-7.03,"y":4.28},
{"c":"G","o":1,"x":-6.978,"y":5.755},{"c":"G","o":2,"x":-6.97,"y":5.2},{"c":"G","o":3,"x":-6.972,"y":4.7},{"c":"G","o":4,"x":-6.97,"y":4.28},
{"c":"H","o":1,"x":-6.839,"y":5.755},{"c":"H","o":2,"x":-6.835,"y":5.3},{"c":"H","o":3,"x":-6.833,"y":5},{"c":"H","o":4,"x":-6.838,"y":4.6},{"c":"H","o":5,"x":-6.84,"y":4.28}
]
},
"hconcat":[
{"width":200,"height":202,
"title":{"text":"Low − J χ²ᵣ","offset":5},
"view":{"fill":"#800000","stroke":"black"},
"layer":[
{"data":{"name":"lo"},
"transform":[{"bin":{"step":0.05,"extent":[-8.175,-7.525],"nice":false},"field":"x","as":["x0","x1"]},{"bin":{"step":0.05,"extent":[4.275,5.575],"nice":false},"field":"y","as":["y0","y1"]}],
"mark":{"type":"rect","clip":true},
"encoding":{
"x":{"field":"x0","type":"quantitative","scale":{"domain":[-8.16,-6.31],"nice":false,"zero":false},"axis":{"values":[-8,-7.5,-7,-6.5],"format":".1f","title":"log(X_D)"}},
"x2":{"field":"x1"},
"y":{"field":"y0","type":"quantitative","scale":{"domain":[4.28,5.755],"nice":false,"zero":false},"axis":{"values":[4.4,4.6,4.8,5,5.2,5.4,5.6],"format":".1f","title":"log(n_de)","titlePadding":6}},
"y2":{"field":"y1"},
"color":{"field":"v","type":"quantitative","scale":{"domain":[0.9,2.75,4.6,6.45,8.3,10.15,12,13.85,15.7,17.55,19.4,21.25,23.1,24.95,26.8,28.65,30.5],"range":["#000080","#0000c8","#0000ff","#0040ff","#0080ff","#00c0ff","#15ffe2","#48ffaf","#7bff7b","#afff48","#e2ff15","#ffd200","#ff9700","#ff5c00","#ff2100","#c80000","#800000"],"clamp":true},"legend":{"type":"gradient","title":null,"values":[4,8,12,16,20,24,28]}}
}},
{"data":{"name":"gx"},"mark":{"type":"rule","color":"#ffd0d0","opacity":0.22,"strokeWidth":0.7,"clip":true},
"encoding":{"x":{"field":"g","type":"quantitative","axis":{"values":[-8,-7.5,-7,-6.5],"format":".1f","title":"log(X_D)"}}}},
{"data":{"name":"gy"},"mark":{"type":"rule","color":"#ffd0d0","opacity":0.22,"strokeWidth":0.7,"clip":true},
"encoding":{"y":{"field":"g","type":"quantitative","axis":{"values":[4.4,4.6,4.8,5,5.2,5.4,5.6],"format":".1f","title":"log(n_de)","titlePadding":6}}}},
{"data":{"name":"loc"},
"mark":{"type":"line","color":"white","strokeWidth":1.5,"clip":true},
"encoding":{
"x":{"field":"x","type":"quantitative","axis":{"values":[-8,-7.5,-7,-6.5],"format":".1f","title":"log(X_D)"}},
"y":{"field":"y","type":"quantitative","axis":{"values":[4.4,4.6,4.8,5,5.2,5.4,5.6],"format":".1f","title":"log(n_de)","titlePadding":6}},
"detail":{"field":"c"},
"order":{"field":"o"}
}}
]},
{"width":200,"height":202,
"title":{"text":"High − J χ²ᵣ","offset":5},
"view":{"fill":"#800000","stroke":"black"},
"layer":[
{"data":{"name":"hi"},
"transform":[{"bin":{"step":0.05,"extent":[-8.175,-6.825],"nice":false},"field":"x","as":["x0","x1"]},{"bin":{"step":0.1,"extent":[4.28,5.78],"nice":false},"field":"y","as":["y0","y1"]}],
"mark":{"type":"rect","clip":true},
"encoding":{
"x":{"field":"x0","type":"quantitative","scale":{"domain":[-8.16,-6.31],"nice":false,"zero":false},"axis":{"values":[-8,-7.5,-7,-6.5],"format":".1f","title":"log(X_D)"}},
"x2":{"field":"x1"},
"y":{"field":"y0","type":"quantitative","scale":{"domain":[4.28,5.755],"nice":false,"zero":false},"axis":{"values":[4.4,4.6,4.8,5,5.2,5.4,5.6],"format":".1f","title":null}},
"y2":{"field":"y1"},
"color":{"field":"v","type":"quantitative","scale":{"domain":[2.4,4.25,6.1,7.95,9.8,11.65,13.5,15.35,17.2,19.05,20.9,22.75,24.6,26.45,28.3,30.15,32],"range":["#000080","#0000c8","#0000ff","#0040ff","#0080ff","#00c0ff","#15ffe2","#48ffaf","#7bff7b","#afff48","#e2ff15","#ffd200","#ff9700","#ff5c00","#ff2100","#c80000","#800000"],"clamp":true},"legend":{"type":"gradient","title":null,"values":[4,8,12,16,20,24,28,32]}}
}},
{"data":{"name":"gx"},"mark":{"type":"rule","color":"#ffd0d0","opacity":0.22,"strokeWidth":0.7,"clip":true},
"encoding":{"x":{"field":"g","type":"quantitative","axis":{"values":[-8,-7.5,-7,-6.5],"format":".1f","title":"log(X_D)"}}}},
{"data":{"name":"gy"},"mark":{"type":"rule","color":"#ffd0d0","opacity":0.22,"strokeWidth":0.7,"clip":true},
"encoding":{"y":{"field":"g","type":"quantitative","axis":{"values":[4.4,4.6,4.8,5,5.2,5.4,5.6],"format":".1f","title":null}}}},
{"data":{"name":"hic"},
"mark":{"type":"line","color":"white","strokeWidth":1.5,"clip":true},
"encoding":{
"x":{"field":"x","type":"quantitative","axis":{"values":[-8,-7.5,-7,-6.5],"format":".1f","title":"log(X_D)"}},
"y":{"field":"y","type":"quantitative","axis":{"values":[4.4,4.6,4.8,5,5.2,5.4,5.6],"format":".1f","title":null}},
"detail":{"field":"c"},
"order":{"field":"o"}
}}
]}
]
}
